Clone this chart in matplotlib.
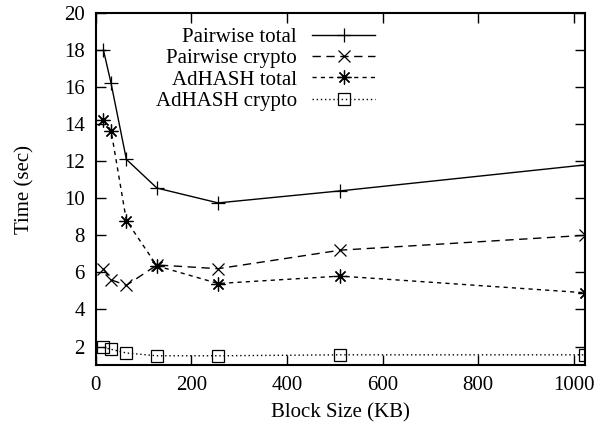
import matplotlib
matplotlib.use('Agg')
import matplotlib.pyplot as plt

# block sizes (KB) and timings (sec)
block_kb = [16, 32, 64, 128, 256, 512, 1024]
pairwise_total = [18.0, 16.2, 12.1, 10.55, 9.75, 10.4, 11.8]
pairwise_crypto = [6.2, 5.6, 5.3, 6.4, 6.2, 7.2, 8.0]
adhash_total = [14.2, 13.65, 8.8, 6.35, 5.4, 5.8, 4.9]
adhash_crypto = [1.95, 1.85, 1.65, 1.5, 1.5, 1.55, 1.55]

plt.rcParams['font.family'] = ['Liberation Serif', 'DejaVu Serif']
plt.rcParams['font.size'] = 15

fig = plt.figure(figsize=(6.14, 4.32), dpi=100)
ax = fig.add_axes([0.156, 0.155, 0.797, 0.815])

ax.plot(block_kb, pairwise_total, color='black', lw=1, ls='-',
        marker='+', ms=10, mew=0.9, label='Pairwise total')
ax.plot(block_kb, pairwise_crypto, color='black', lw=1, ls=(0, (6, 4)),
        marker='x', ms=8, mew=0.9, label='Pairwise crypto')
ax.plot(block_kb, adhash_total, color='black', lw=1, ls=(0, (3, 3)),
        marker=(8, 2, 0), ms=10, mew=0.9, label='AdHASH total')
ax.plot(block_kb, adhash_crypto, color='black', lw=1, ls=(0, (1, 2)),
        marker='s', ms=8, mew=0.9, mfc='none', label='AdHASH crypto')

ax.set_xlim(0, 1024)
ax.set_ylim(1, 20)
ax.set_xticks(range(0, 1001, 200))
ax.set_yticks(range(2, 21, 2))
ax.tick_params(direction='in', length=7, width=1, top=True, right=True,
               labelsize=15, pad=8)
for s in ax.spines.values():
    s.set_linewidth(1.5)

ax.set_xlabel('Block Size (KB)', fontsize=15, labelpad=6)
ax.set_ylabel('Time (sec)', fontsize=15, labelpad=21)

ax.legend(loc='upper right', bbox_to_anchor=(0.60, 1.0), frameon=False,
          markerfirst=False, handlelength=3.0, handletextpad=0.75,
          labelspacing=0.08, borderaxespad=0.3, fontsize=15)

plt.savefig('out.png', dpi=100)
